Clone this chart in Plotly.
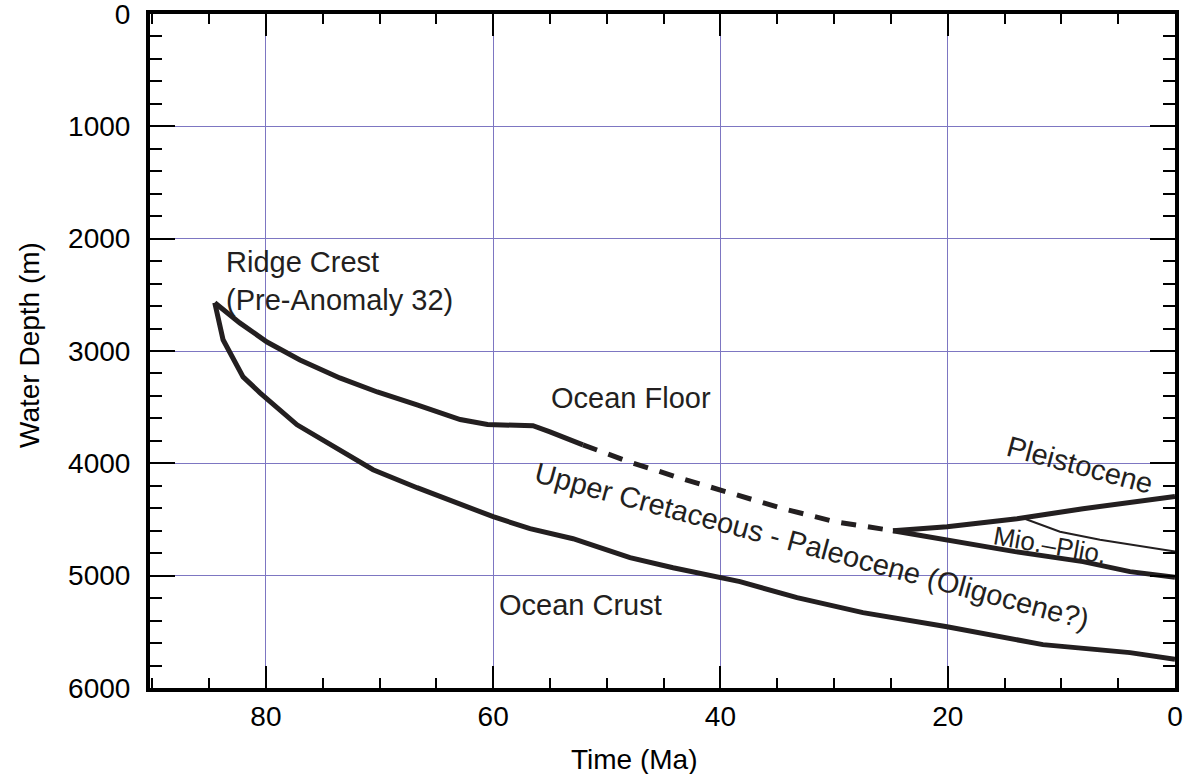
import plotly.graph_objects as go

# ---- data (age in Ma, water depth in m) ----
floor_age = [84.5, 82.3, 79.9, 77.0, 73.5, 70.2, 66.7, 62.9, 60.5, 56.5, 55.0, 52.1]
floor_depth = [2570, 2750, 2920, 3080, 3240, 3365, 3480, 3610, 3655, 3665, 3720, 3835]

dashed_age = [52.1, 48.05, 43.65, 38.98, 34.49, 29.91, 24.82]
dashed_depth = [3835, 3986, 4128, 4270, 4404, 4520, 4600]

pleist_age = [24.82, 20.06, 13.9, 8.1, 0.0]
pleist_depth = [4600, 4564, 4493, 4404, 4295]

miopl_top_age = [13.46, 10.12, 6.6, 0.0]
miopl_top_depth = [4484, 4609, 4680, 4785]

miopl_base_age = [24.82, 20.06, 14.08, 8.1, 3.96, 0.0]
miopl_base_depth = [4600, 4680, 4786, 4875, 4964, 5015]

crust_age = [84.5, 83.77, 82.01, 80.52, 77.26, 74.09, 70.57, 66.7, 64.68, 62.3, 60.0,
             56.76, 52.97, 50.6, 47.96, 44.17, 40.04, 38.28, 33.26, 27.46, 20.06,
             17.16, 11.62, 3.96, 0.0]
crust_depth = [2570, 2900, 3230, 3372, 3657, 3852, 4057, 4217, 4297, 4386, 4475,
               4582, 4671, 4751, 4840, 4929, 5009, 5053, 5196, 5329, 5454,
               5507, 5614, 5685, 5745]

x_ticks = [80, 60, 40, 20, 0]
y_ticks = [0, 1000, 2000, 3000, 4000, 5000, 6000]

LINE = "#231f20"
GRID = "#7d76c2"
FONT = "Liberation Sans, Arial, sans-serif"

fig = go.Figure()

def add_line(x, y, width=5, dash="solid"):
    fig.add_trace(go.Scatter(x=x, y=y, mode="lines",
                             line=dict(color=LINE, width=width, dash=dash),
                             hoverinfo="skip", showlegend=False))

add_line(floor_age, floor_depth)
add_line(dashed_age, dashed_depth, dash="15px,12px")
add_line(pleist_age, pleist_depth)
add_line(miopl_top_age, miopl_top_depth, width=2)
add_line(miopl_base_age, miopl_base_depth)
add_line(crust_age, crust_depth)

txt = dict(family=FONT, size=29, color=LINE)
ann = [
    dict(x=83.65, y=2375, text="Ridge Crest<br>(Pre-Anomaly 32)", xanchor="left",
         yanchor="middle", align="left", font=txt),
    dict(x=47.87, y=3416, text="Ocean Floor", font=txt),
    dict(x=52.36, y=5258, text="Ocean Crust", font=txt),
    dict(x=31.94, y=4733, text="Upper Cretaceous - Paleocene (Oligocene?)",
         textangle=15, font=txt),
    dict(x=8.36, y=4012, text="Pleistocene", textangle=15, font=txt),
    dict(x=11.0, y=4724, text="Mio.\u2013Plio.", textangle=10,
         font=dict(family=FONT, size=26, color=LINE)),
]
for a in ann:
    a.update(xref="x", yref="y", showarrow=False)
    a.setdefault("xanchor", "center")
    a.setdefault("yanchor", "middle")

# axis titles
ann.append(dict(xref="paper", yref="paper", x=(634 - 150) / 1025, y=(688 - 760) / 674,
                text="Time (Ma)", showarrow=False, xanchor="center", yanchor="middle",
                font=dict(family=FONT, size=28, color="black")))
ann.append(dict(xref="paper", yref="paper", x=(29 - 150) / 1025, y=(688 - 345) / 674,
                text="Water Depth (m)", showarrow=False, xanchor="center", yanchor="middle",
                textangle=-90, font=dict(family=FONT, size=28, color="black")))

fig.update_layout(
    width=1188, height=774,
    margin=dict(l=150, r=13, t=14, b=86, autoexpand=False),
    paper_bgcolor="white", plot_bgcolor="white",
    annotations=ann,
    showlegend=False,
)

fig.update_xaxes(
    range=[90.2, 0], tickvals=x_ticks, ticktext=[str(v) for v in x_ticks],
    showgrid=True, gridcolor=GRID, gridwidth=1,
    showline=True, linecolor="black", linewidth=4, mirror="ticks",
    ticks="inside", ticklen=22, tickwidth=2, tickcolor="black",
    minor=dict(dtick=5, tick0=0, ticks="inside", ticklen=10, tickwidth=2,
               tickcolor="black", showgrid=False),
    tickfont=dict(family=FONT, size=28, color="black"),
    ticklabelstandoff=0, zeroline=False, automargin=False,
    ticklabeloverflow="allow",
)
fig.update_yaxes(
    range=[6000, 0], tickvals=y_ticks, ticktext=[str(v) for v in y_ticks],
    showgrid=True, gridcolor=GRID, gridwidth=1,
    showline=True, linecolor="black", linewidth=4, mirror="ticks",
    ticks="inside", ticklen=25, tickwidth=2, tickcolor="black",
    minor=dict(dtick=200, tick0=0, ticks="inside", ticklen=12, tickwidth=2,
               tickcolor="black", showgrid=False),
    tickfont=dict(family=FONT, size=28, color="black"),
    ticklabelstandoff=10, zeroline=False, automargin=False,
    ticklabeloverflow="allow",
)

fig.write_html("out.html")
